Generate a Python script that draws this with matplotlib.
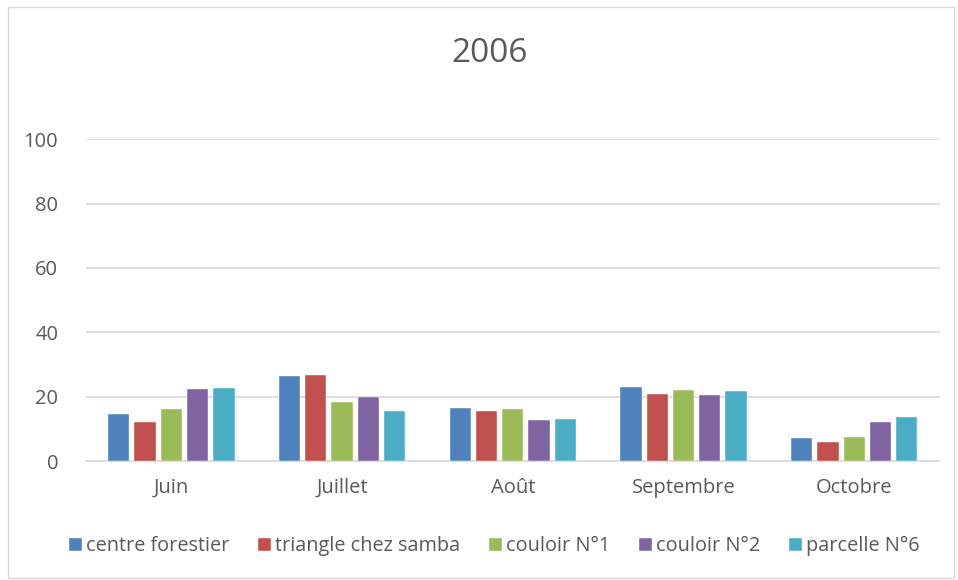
import matplotlib
matplotlib.use("Agg")
import matplotlib.pyplot as plt
import numpy as np
from matplotlib.patches import Rectangle

months = ["Juin", "Juillet", "Août", "Septembre", "Octobre"]
series_names = ["centre forestier", "triangle chez samba", "couloir N°1", "couloir N°2", "parcelle N°6"]
centre_forestier = [14.7, 26.3, 16.6, 22.9, 7.2]
triangle_chez_samba = [12.3, 26.9, 15.5, 20.8, 5.9]
couloir_n1 = [16.2, 18.4, 16.1, 22.0, 7.5]
couloir_n2 = [22.4, 19.9, 12.8, 20.4, 12.2]
parcelle_n6 = [22.7, 15.6, 13.0, 21.8, 13.8]
yticks = [0, 20, 40, 60, 80, 100]
title = "2006"

colors = ["#4f81bd", "#c0504d", "#9bbb59", "#8064a2", "#4bacc6"]
all_series = [centre_forestier, triangle_chez_samba, couloir_n1, couloir_n2, parcelle_n6]

plt.rcParams['font.family'] = ['Open Sans', 'DejaVu Sans']
fig = plt.figure(figsize=(9.58, 5.8), dpi=100)
ax = fig.add_axes([0.0898, 0.205, 0.891, 0.555])

x = np.arange(len(months))
slot = 0.154
bw = 0.125
for i, (vals, name, c) in enumerate(zip(all_series, series_names, colors)):
    ax.bar(x + (i - 2) * slot, vals, width=bw, color=c, label=name,
           edgecolor="white", linewidth=0.3, zorder=3)

ax.set_xlim(-0.5, len(months) - 0.5)
ax.set_ylim(0, 100)
ax.set_yticks(yticks)
ax.set_xticks(x)
ax.set_xticklabels(months)
ax.grid(axis="y", color="#d9d9d9", linewidth=1.2, zorder=0)
for s in ["top", "right", "left"]:
    ax.spines[s].set_visible(False)
ax.spines["bottom"].set_color("#d9d9d9")
ax.spines["bottom"].set_linewidth(1.2)
ax.tick_params(axis="both", length=0, labelsize=14.5, colors="#595959")
ax.tick_params(axis="x", pad=12)
ax.tick_params(axis="y", pad=20)

fig.text(0.511, 0.907, title, ha="center", va="center", fontsize=24, color="#595959")

leg = fig.legend(loc="center", bbox_to_anchor=(0.516, 0.058), ncol=5, frameon=False,
                 fontsize=14.3, handlelength=0.65, handleheight=0.65, handletextpad=0.2,
                 columnspacing=1.45, labelcolor="#595959")

fig.patches.append(Rectangle((0.008, 0.003), 0.988, 0.985, transform=fig.transFigure,
                             fill=False, edgecolor="#d9d9d9", linewidth=1))

fig.savefig("out.png", dpi=100)
